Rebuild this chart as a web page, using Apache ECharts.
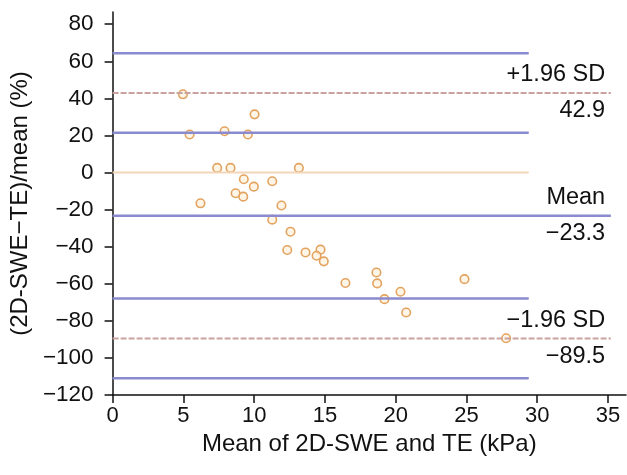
<!DOCTYPE html>
<html>
<head>
<meta charset="utf-8">
<script src="https://cdn.jsdelivr.net/npm/echarts@6/dist/echarts.min.js"></script>
<style>
  html, body { margin: 0; padding: 0; background: #fff; }
  #chart { width: 627px; height: 475px; }
</style>
</head>
<body>
<div id="chart"></div>
<script>
/* Bland-Altman plot: 2D-SWE vs TE, relative difference */

// --- data ---
const meanKPa = [4.97, 10.03, 5.44, 7.91, 9.56, 7.39, 8.33, 13.16, 9.27, 9.98,
  11.28, 8.69, 9.23, 6.21, 11.93, 11.28, 12.57, 12.34, 13.63, 14.69,
  14.41, 14.92, 16.45, 18.64, 18.69, 19.21, 20.34, 20.74, 24.86, 27.8];
const diffPct = [42.2, 31.4, 20.5, 22.3, 20.5, 2.5, 2.5, 2.5, -3.6, -7.6,
  -4.7, -11.2, -13.0, -16.6, -17.8, -25.4, -31.9, -41.8, -43.1, -41.6,
  -44.9, -47.9, -59.6, -53.9, -59.8, -68.3, -64.3, -75.5, -57.5, -89.4];

const limitNames = ['+1.96 SD', 'Mean', '\u22121.96 SD'];
const limitValues = [42.9, -23.3, -89.5];
const limitText = ['42.9', '\u221223.3', '\u221289.5'];
const ciValues = [64.4, 21.4, -68.0, -111.0];   // CI of the limits of agreement
const zeroValue = 0;
const ciEndX = 29.4;      // short lines stop here
const limitEndX = 35.2;   // mean and limits run to the edge
const labelX = 34.8;

const xTicks = [0, 5, 10, 15, 20, 25, 30, 35];
const yTicks = [-120, -100, -80, -60, -40, -20, 0, 20, 40, 60, 80];

// --- styles ---
const FONT = 'Liberation Sans, Arial, Helvetica, sans-serif';
const BLUE = '#8a8ad0';
const RED = '#c9a2a2';
const ORANGE_LINE = '#f3d6b8';
const PT = '#e3a35f';

const fmtNum = v => (v < 0 ? '\u2212' + Math.abs(v) : String(v));

function hline(y, x1, color, width, type) {
  return {
    type: 'line',
    data: [[0, y], [x1, y]],
    symbol: 'none',
    silent: true,
    lineStyle: { color: color, width: width, type: type || 'solid' },
    z: 3,
  };
}

const series = [];
series.push({
  type: 'scatter',
  data: meanKPa.map((x, i) => [x, diffPct[i]]),
  symbol: 'circle',
  symbolSize: 8.5,
  itemStyle: { color: 'rgba(255,236,210,0.55)', borderColor: PT, borderWidth: 1.6, opacity: 1 },
  z: 2,
});
ciValues.forEach(v => series.push(hline(v, ciEndX, BLUE, 2.5)));
series.push(hline(zeroValue, ciEndX, ORANGE_LINE, 2));
series.push(hline(limitValues[1], limitEndX, BLUE, 2.5));
series.push(hline(limitValues[0], limitEndX, RED, 2, [6, 2]));
series.push(hline(limitValues[2], limitEndX, RED, 2, [6, 2]));

// labels above (names) and below (values) each limit line
function labelSeries(texts, dy) {
  return {
    type: 'scatter',
    symbolSize: 0,
    silent: true,
    itemStyle: { opacity: 1 },
    data: limitValues.map((v, i) => ({ value: [labelX, v], name: texts[i] })),
    label: {
      show: true,
      position: [0, 0],
      align: 'right',
      verticalAlign: 'middle',
      offset: [0, dy],
      formatter: p => p.name,
      fontFamily: FONT,
      fontSize: 23.5,
      color: '#111',
    },
    z: 5,
  };
}
series.push(labelSeries(limitNames, -18));
series.push(labelSeries(limitText, 18));

const axisCommon = {
  type: 'value',
  splitLine: { show: false },
  axisLine: { show: true, onZero: false, lineStyle: { color: '#111', width: 1.5 } },
  axisTick: { show: true, inside: false, length: 8, lineStyle: { color: '#111', width: 1.5 } },
  nameLocation: 'middle',
  nameTextStyle: { fontFamily: FONT, fontSize: 24, color: '#111' },
};

const option = {
  animation: false,
  backgroundColor: '#fff',
  grid: { left: 112, right: 1, top: 12, bottom: 80 },
  xAxis: Object.assign({}, axisCommon, {
    min: 0, max: 36.27,
    name: 'Mean of 2D-SWE and TE (kPa)',
    nameGap: 33,
    axisTick: Object.assign({}, axisCommon.axisTick, { customValues: xTicks }),
    axisLabel: { customValues: xTicks, fontFamily: FONT, fontSize: 22, color: '#111', margin: 10, formatter: fmtNum },
  }),
  yAxis: Object.assign({}, axisCommon, {
    min: -120, max: 86.6,
    name: '(2D-SWE\u2212TE)/mean (%)',
    nameGap: 72,
    axisTick: Object.assign({}, axisCommon.axisTick, { customValues: yTicks }),
    axisLabel: { customValues: yTicks, fontFamily: FONT, fontSize: 22.5, color: '#111', margin: 19, formatter: fmtNum },
  }),
  series: series,
};

const chart = echarts.init(document.getElementById('chart'), null, { renderer: 'canvas' });
chart.setOption(option);
</script>
</body>
</html>
